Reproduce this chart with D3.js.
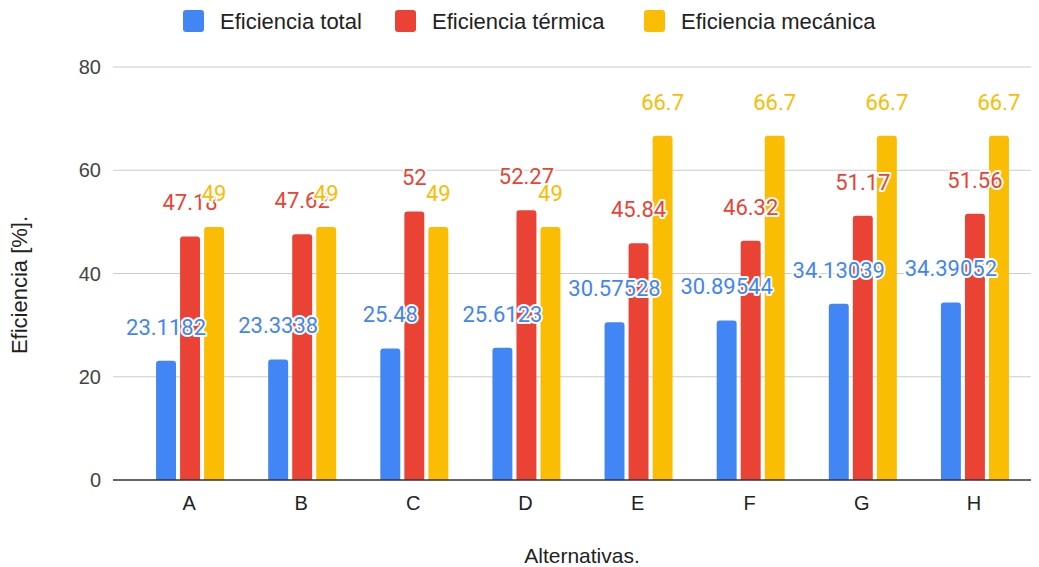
<!DOCTYPE html>
<html><head><meta charset="utf-8">
<script src="https://cdn.jsdelivr.net/npm/d3@7"></script>
<style>body{margin:0;background:#fff}svg{display:block}</style>
</head><body>
<svg id="c" width="1039" height="567"></svg>
<script>
const categories = ["A","B","C","D","E","F","G","H"];
const seriesNames = ["Eficiencia total","Eficiencia térmica","Eficiencia mecánica"];
const totalVals = [23.1182, 23.3338, 25.48, 25.6123, 30.57528, 30.89544, 34.13039, 34.39052];
const termVals = [47.18, 47.62, 52, 52.27, 45.84, 46.32, 51.17, 51.56];
const mecVals = [49, 49, 49, 49, 66.7, 66.7, 66.7, 66.7];
const yTicks = [0, 20, 40, 60, 80];
const colors = ["#4285F4", "#EA4335", "#FBBC04"];
const series = [totalVals, termVals, mecVals];

const svg = d3.select("#c");
const y = d3.scaleLinear().domain([0, 80]).range([480, 67]);
const x0 = d3.scaleBand().domain(categories).range([134, 1031]).padding(0);
const x1 = d3.scaleBand().domain(d3.range(3)).range([-34, 34]).paddingInner(0.17).paddingOuter(0);
const cx = c => x0(c) + x0.bandwidth() / 2;

// gridlines
svg.append("g").selectAll("line").data(yTicks.filter(t => t > 0)).join("line")
  .attr("x1", 113).attr("x2", 1031).attr("y1", d => y(d)).attr("y2", d => y(d))
  .attr("stroke", "#cccccc").attr("stroke-width", 1.2);
// y tick labels
svg.append("g").selectAll("text").data(yTicks).join("text")
  .attr("x", 101).attr("y", d => y(d)).attr("dy", "0.35em").attr("text-anchor", "end")
  .attr("font-family", "Liberation Sans, Arial, sans-serif").attr("font-size", 20).attr("fill", "#444")
  .text(d => d);

function barPath(x, w, y0, y1, r) {
  r = Math.min(r, (y0 - y1), w / 2);
  return `M${x},${y0}V${y1 + r}Q${x},${y1} ${x + r},${y1}H${x + w - r}Q${x + w},${y1} ${x + w},${y1 + r}V${y0}Z`;
}

// bars
series.forEach((vals, s) => {
  svg.append("g").selectAll("path").data(vals).join("path")
    .attr("d", (v, i) => barPath(cx(categories[i]) + x1(s), x1.bandwidth(), y(0), y(v), 3))
    .attr("fill", colors[s]);
});

// baseline
svg.append("line").attr("x1", 113).attr("x2", 1031).attr("y1", y(0)).attr("y2", y(0))
  .attr("stroke", "#333").attr("stroke-width", 1.5);

// category labels
svg.append("g").selectAll("text").data(categories).join("text")
  .attr("x", d => cx(d) - 1).attr("y", 503).attr("dy", "0.35em").attr("text-anchor", "middle")
  .attr("font-family", "Liberation Sans, Arial, sans-serif").attr("font-size", 20).attr("fill", "#222")
  .text(d => d);

// data labels
series.forEach((vals, s) => {
  svg.append("g").selectAll("text").data(vals).join("text")
    .attr("x", (v, i) => cx(categories[i]) + x1(s) + x1.bandwidth() / 2)
    .attr("y", v => y(v) - 34).attr("dy", "0.36em").attr("text-anchor", "middle")
    .attr("font-family", "Roboto, sans-serif").attr("font-size", 22)
    .attr("fill", colors[s]).attr("stroke", "#fff").attr("stroke-width", 4)
    .attr("stroke-linejoin", "round").attr("paint-order", "stroke")
    .text(v => String(v));
});

// axis titles
svg.append("text").attr("x", 582).attr("y", 556).attr("dy", "0.35em").attr("text-anchor", "middle")
  .attr("font-family", "Liberation Sans, Arial, sans-serif").attr("font-size", 21).attr("fill", "#222")
  .text("Alternativas.");
svg.append("text").attr("transform", "translate(19,285) rotate(-90)").attr("dy", "0.35em")
  .attr("text-anchor", "middle")
  .attr("font-family", "Liberation Sans, Arial, sans-serif").attr("font-size", 22).attr("fill", "#222")
  .text("Eficiencia [%].");

// legend
const legX = [183, 395, 644];
const leg = svg.append("g").selectAll("g").data(seriesNames).join("g")
  .attr("transform", (d, i) => `translate(${legX[i]},10)`);
leg.append("rect").attr("width", 21).attr("height", 22).attr("rx", 3).attr("fill", (d, i) => colors[i]);
leg.append("text").attr("x", 37).attr("y", 11).attr("dy", "0.35em")
  .attr("font-family", "Liberation Sans, Arial, sans-serif").attr("font-size", 22).attr("fill", "#222")
  .text(d => d);
</script>
</body></html>
